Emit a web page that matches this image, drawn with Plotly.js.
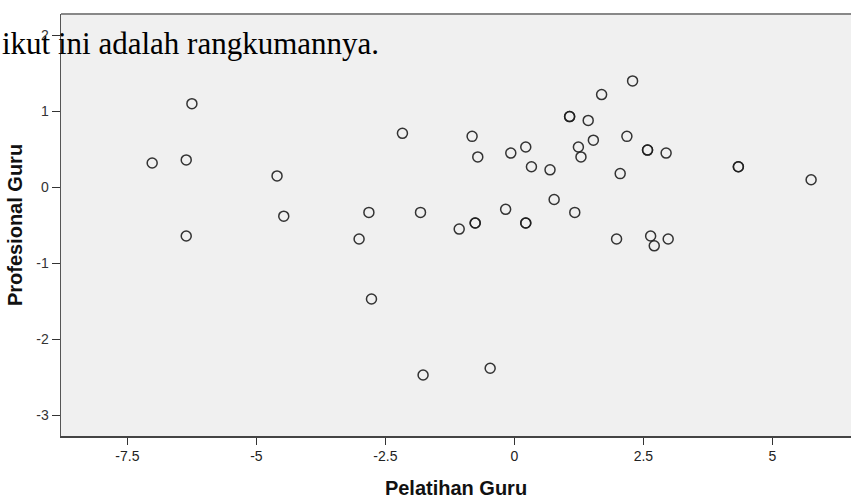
<!DOCTYPE html>
<html>
<head>
<meta charset="utf-8">
<script src="https://cdn.plot.ly/plotly-3.0.1.min.js"></script>
<style>
html,body{margin:0;padding:0;background:#fff;}
#chart{width:851px;height:499px;}
</style>
</head>
<body>
<div id="chart"></div>
<script>
// Pelatihan Guru (x) vs Profesional Guru (y)
const pelatihanGuru = [
  -7.02, -6.25, -6.36, -6.36, -4.60, -4.47,
  -2.17, -2.82, -3.01, -2.77, -1.82, -1.77, -0.47,
  -0.82, -0.71, -1.07, -0.76, -0.76, -0.17, 0.22, 0.22,
  -0.07, 0.22, 0.33, 0.69, 0.77, 1.07, 1.07, 1.17,
  2.29, 1.69, 1.43, 1.24, 1.29, 1.53, 2.18, 2.58, 2.58,
  2.94, 2.05, 4.34, 4.34, 5.75, 1.98, 2.64, 2.71, 2.98
];
const profesionalGuru = [
  0.32, 1.10, 0.36, -0.64, 0.15, -0.38,
  0.71, -0.33, -0.68, -1.47, -0.33, -2.47, -2.38,
  0.67, 0.40, -0.55, -0.47, -0.47, -0.29, -0.47, -0.47,
  0.45, 0.53, 0.27, 0.23, -0.16, 0.93, 0.93, -0.33,
  1.40, 1.22, 0.88, 0.53, 0.40, 0.62, 0.67, 0.49, 0.49,
  0.45, 0.18, 0.27, 0.27, 0.10, -0.68, -0.64, -0.77, -0.68
];
const xTickVals = [-7.5, -5, -2.5, 0, 2.5, 5];
const xTickText = ['-7.5', '-5', '-2.5', '0', '2.5', '5'];
const yTickVals = [-3, -2, -1, 0, 1, 2];
const yTickText = ['-3', '-2', '-1', '0', '1', '2'];
const xTitle = 'Pelatihan Guru';
const yTitle = 'Profesional Guru';
const overlayText = 'ikut ini adalah rangkumannya.';

const trace = {
  type: 'scatter',
  mode: 'markers',
  x: pelatihanGuru,
  y: profesionalGuru,
  marker: {
    symbol: 'circle-open',
    size: 10,
    color: 'rgba(30,30,30,0.9)',
    line: {width: 1.5, color: 'rgba(30,30,30,0.9)'}
  },
  hoverinfo: 'x+y'
};

const layout = {
  width: 851,
  height: 499,
  margin: {l: 61, r: 0, t: 14, b: 63},
  paper_bgcolor: '#ffffff',
  plot_bgcolor: '#f0f0f0',
  showlegend: false,
  font: {family: 'Liberation Sans, Arial, sans-serif', color: '#222'},
  xaxis: {
    range: [-8.787, 6.523],
    tickmode: 'array',
    tickvals: xTickVals,
    ticktext: xTickText,
    ticks: 'outside',
    ticklen: 7,
    tickwidth: 1.5,
    tickcolor: '#333',
    tickfont: {size: 14, color: '#222'},
    showgrid: false,
    zeroline: false,
    showline: true,
    linecolor: '#444',
    linewidth: 1.5,
    title: {text: xTitle, font: {size: 20, color: '#111', family: 'Liberation Sans, Arial, sans-serif', weight: 'bold'}, standoff: 18}
  },
  yaxis: {
    range: [-3.272, 2.280],
    tickmode: 'array',
    tickvals: yTickVals,
    ticktext: yTickText,
    ticks: 'outside',
    ticklen: 8,
    tickwidth: 1.5,
    tickcolor: '#333',
    tickfont: {size: 14, color: '#333'},
    showgrid: false,
    zeroline: false,
    showline: true,
    linecolor: '#555',
    linewidth: 1.5,
    title: {text: yTitle, font: {size: 20, color: '#111', family: 'Liberation Sans, Arial, sans-serif', weight: 'bold'}, standoff: 8}
  },
  shapes: [{
    type: 'line', xref: 'paper', yref: 'paper',
    x0: 0, x1: 1, y0: 1, y1: 1,
    line: {color: '#888', width: 2}
  }],
  annotations: [{
    text: overlayText,
    xref: 'paper', yref: 'paper',
    x: -61/790, y: 0.931,
    xanchor: 'left', yanchor: 'middle',
    showarrow: false,
    font: {family: 'Liberation Serif, Times New Roman, serif', size: 31, color: '#000'}
  }]
};

Plotly.newPlot('chart', [trace], layout, {displayModeBar: false, staticPlot: true});
</script>
</body>
</html>
